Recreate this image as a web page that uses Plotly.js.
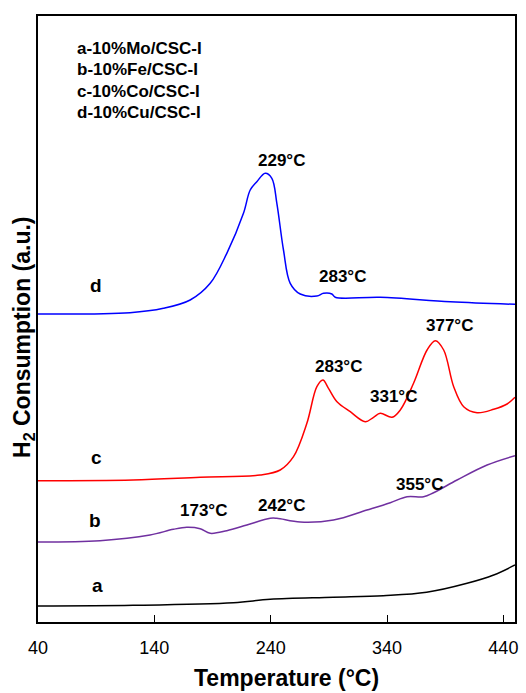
<!DOCTYPE html>
<html>
<head>
<meta charset="utf-8">
<script src="https://cdn.plot.ly/plotly-3.0.1.min.js"></script>
<style>html,body{margin:0;padding:0;background:#fff;}#chart{width:526px;height:693px;}</style>
</head>
<body>
<div id="chart"></div>
<script>
// Temperature (°C) and H2 consumption (a.u., offset stacked)
const tempA = [40, 121.7, 208, 239.6, 293.8, 336.8, 374, 408.8, 431.7, 450];
const valA  = [16, 16.7, 19.3, 22.7, 24.7, 26.3, 29.7, 38.7, 47, 57];

const tempB = [40, 93.3, 136.3, 156.4, 167.9, 179.4, 188, 202.3, 219.5, 239.6, 245.3, 265.4, 294, 322.7, 342.8, 357.2, 371.4, 380, 400.2, 426, 450];
const valB  = [80, 81.3, 87, 92.7, 94.7, 93.3, 88.7, 91.3, 97, 103.7, 103.7, 100, 102, 112, 119.3, 125.3, 125.3, 129.3, 142, 157, 166.3];

const tempC = [40, 121.7, 179.4, 231, 248.2, 259.6, 271.1, 279.7, 284.9, 289.7, 297, 308.4, 321.3, 328.4, 334.2, 344.3, 351.4, 362.8, 374.4, 381.5, 388.7, 397.3, 405.9, 417.4, 431.7, 443.2, 450];
const valC  = [141.3, 142, 144.7, 147, 152, 165.3, 198.7, 235.3, 242, 233.7, 220.3, 210.3, 200.3, 204.7, 208.7, 204.7, 212, 238.7, 272, 281.3, 272, 235.3, 215.3, 209.3, 212.7, 218, 224.7];

const tempD = [40, 119.1, 147.8, 170.8, 188, 202.3, 216.6, 222.4, 228.1, 235.3, 241, 245.3, 251, 256.8, 265.4, 279.7, 285.4, 292.6, 295.5, 334.2, 394.4, 450];
const valD  = [308, 309.3, 313.7, 322, 338.7, 368.7, 408.7, 432, 440.3, 448.7, 443.7, 418.7, 372, 338.7, 328, 326, 328.7, 328, 324.7, 324.7, 320.3, 317.7];

const seriesNames = ['a', 'b', 'c', 'd'];
const seriesColors = ['#000000', '#7030A0', '#FF0000', '#0000FF'];
const legendLines = ['a-10%Mo/CSC-I', 'b-10%Fe/CSC-I', 'c-10%Co/CSC-I', 'd-10%Cu/CSC-I'];

// Peak labels
const peakText = ['229°C', '283°C', '377°C', '283°C', '331°C', '173°C', '242°C', '355°C'];
const peakX    = [249, 301.5, 393.5, 298.1, 345.4, 181.9, 249, 367.7];
const peakY    = [462, 346, 297, 255.3, 226, 112, 116.3, 138];

// Curve letter labels
const letterX = [90.8, 89, 89.9, 89.9];
const letterY = [37, 102, 164.3, 337];
const legendX = 71.8;
const legendY = [574, 553, 531, 510];

const temps = [tempA, tempB, tempC, tempD];
const vals = [valA, valB, valC, valD];

const traces = temps.map((t, i) => ({
  x: t, y: vals[i], type: 'scatter', mode: 'lines', name: seriesNames[i],
  line: {color: seriesColors[i], width: 1.5, shape: 'spline', smoothing: 1},
  hoverinfo: 'skip'
}));

const font = 'Arial, "Liberation Sans", sans-serif';
const annotations = [];
peakText.forEach((t, i) => annotations.push({
  x: peakX[i], y: peakY[i], xref: 'x', yref: 'y', text: '<b>' + t + '</b>',
  showarrow: false, font: {family: font, size: 17, color: '#000'}
}));
seriesNames.forEach((n, i) => annotations.push({
  x: letterX[i], y: letterY[i], xref: 'x', yref: 'y', text: '<b>' + n + '</b>',
  showarrow: false, font: {family: font, size: 19, color: '#000'}
}));
legendLines.forEach((t, i) => annotations.push({
  x: legendX, y: legendY[i], xref: 'x', yref: 'y', xanchor: 'left', text: '<b>' + t + '</b>',
  showarrow: false, font: {family: font, size: 17, color: '#000'}
}));
// Axis titles placed to match the reference
annotations.push({
  x: 0.5214, y: -0.0924, xref: 'paper', yref: 'paper', xanchor: 'center', yanchor: 'middle',
  text: '<b>Temperature (°C)</b>', showarrow: false, font: {family: font, size: 23, color: '#000'}
});
annotations.push({
  x: -0.0294, y: 0.4703, xref: 'paper', yref: 'paper', xanchor: 'center', yanchor: 'middle',
  textangle: -90, text: '<b>H<sub>2</sub> Consumption (a.u.)</b>', showarrow: false,
  font: {family: font, size: 23, color: '#000'}
});

const layout = {
  width: 526, height: 693,
  margin: {l: 38, r: 11, t: 16, b: 71},
  paper_bgcolor: '#fff', plot_bgcolor: '#fff',
  showlegend: false,
  font: {family: font, color: '#000'},
  xaxis: {
    range: [40, 450], tickvals: [40, 140, 240, 340, 440], ticktext: ['40', '140', '240', '340', '440'],
    ticks: 'inside', ticklen: 7, tickwidth: 1, tickcolor: '#000',
    showline: true, linecolor: '#000', linewidth: 2, mirror: true,
    showgrid: false, zeroline: false,
    tickfont: {family: font, size: 18, color: '#000'},
    ticklabelstandoff: 8,
    automargin: false
  },
  yaxis: {
    range: [0, 606], showticklabels: false, ticks: '',
    showline: true, linecolor: '#000', linewidth: 2, mirror: true,
    showgrid: false, zeroline: false,
    automargin: false
  },
  annotations: annotations
};

Plotly.newPlot('chart', traces, layout, {displayModeBar: false, staticPlot: true});
</script>
</body>
</html>
